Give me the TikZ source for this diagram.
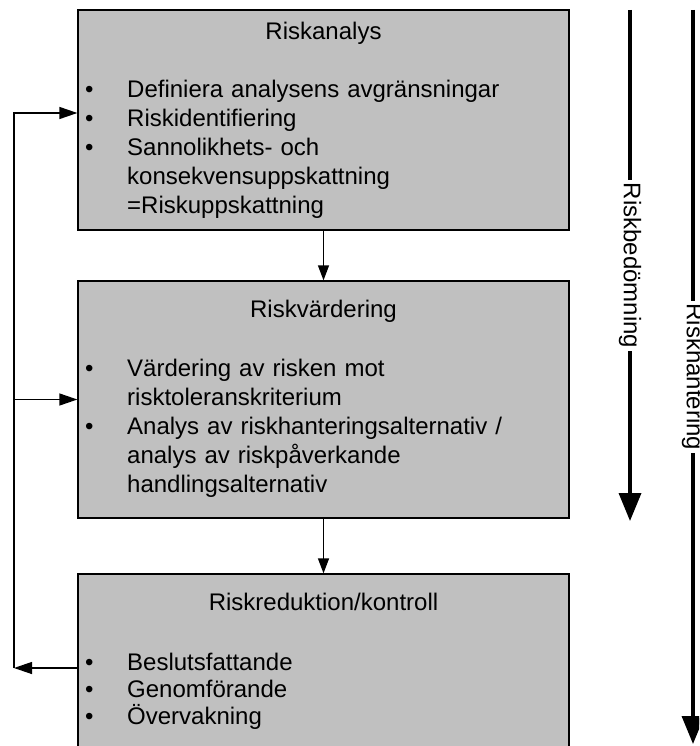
\documentclass[tikz,border=0pt]{standalone}
\usepackage{fontspec}
\setmainfont{Liberation Sans}
\usetikzlibrary{arrows.meta}
\definecolor{rutgra}{HTML}{C0C0C0}
\newcommand{\punkt}[1]{\hangindent=42pt\noindent\makebox[42pt][l]{\textbullet}#1\par}

\begin{document}
\begin{tikzpicture}[x=1pt, y=-1pt,
  ruta/.style={draw, fill=rutgra, line width=1.3pt, minimum width=491pt, inner sep=0pt},
  rubrik/.style={anchor=base, inner sep=0pt, font=\fontsize{24}{29}\selectfont},
  lista/.style={anchor=base west, text width=470pt, align=left, inner sep=0pt},
  pil/.style={line width=1.3pt, -{Triangle[length=18pt, width=12pt]}},
  stor/.style={line width=3.5pt, -{Triangle[length=28pt, width=22pt]}},
  etikett/.style={fill=white, rotate=-90, inner xsep=3pt, inner ysep=0pt, font=\fontsize{24}{29}\selectfont}]
  \clip (0, 0) rectangle (699, 746);
  % rutorna
  \node[ruta, minimum height=220pt] (ana) at (323.5, 120) {};
  \node[ruta, minimum height=237pt] (var) at (323.5, 399.5) {};
  \node[ruta, minimum height=200pt] (kon) at (323.5, 674) {};
  % texter
  \node[rubrik] (anat) at (323.5, 40) {Riskanalys};
  \node[rubrik] (vart) at (323.5, 317) {Riskvärdering};
  \node[rubrik] (kont) at (323.5, 610) {Riskreduktion/kontroll};
  \node[lista, font=\fontsize{24}{29}\selectfont] (anal) at (85, 98) {%
    \punkt{Definiera analysens avgränsningar}%
    \punkt{Riskidentifiering}%
    \punkt{Sannolikhets- och\newline konsekvensuppskattning\newline =Riskuppskattning}};
  \node[lista, font=\fontsize{24}{29}\selectfont] (varl) at (85, 376) {%
    \punkt{Värdering av risken mot\newline risktoleranskriterium}%
    \punkt{Analys av riskhanteringsalternativ /\newline analys av riskpåverkande\newline handlingsalternativ}};
  \node[lista, font=\fontsize{24}{27}\selectfont] (konl) at (85, 670) {%
    \punkt{Beslutsfattande}%
    \punkt{Genomförande}%
    \punkt{Övervakning}};
  % pilar mellan rutorna
  \draw[pil, -{Triangle[length=15pt, width=11pt]}] (ana) -- (var);
  \draw[pil, -{Triangle[length=15pt, width=11pt]}] (var) -- (kon);
  % återkoppling
  \coordinate (retur) at (14, 668);
  \draw[pil] (kon.west |- retur) -- (retur);
  \draw[pil] (retur) |- ([yshift=7pt]ana.west);
  \draw[pil] (retur |- var.west) -- (var.west);
  % pilar till höger
  \coordinate (bedA) at (630, 10);
  \coordinate (bedB) at (630, 521);
  \coordinate (hanA) at (693, 10);
  \coordinate (hanB) at (693, 744);
  \draw[stor] (bedA) -- (bedB) node[etikett, midway] (bedt) {Riskbedömning};
  \draw[stor] (hanA) -- (hanB) node[etikett, midway] (hant) {Riskhantering};
\end{tikzpicture}
\end{document}
